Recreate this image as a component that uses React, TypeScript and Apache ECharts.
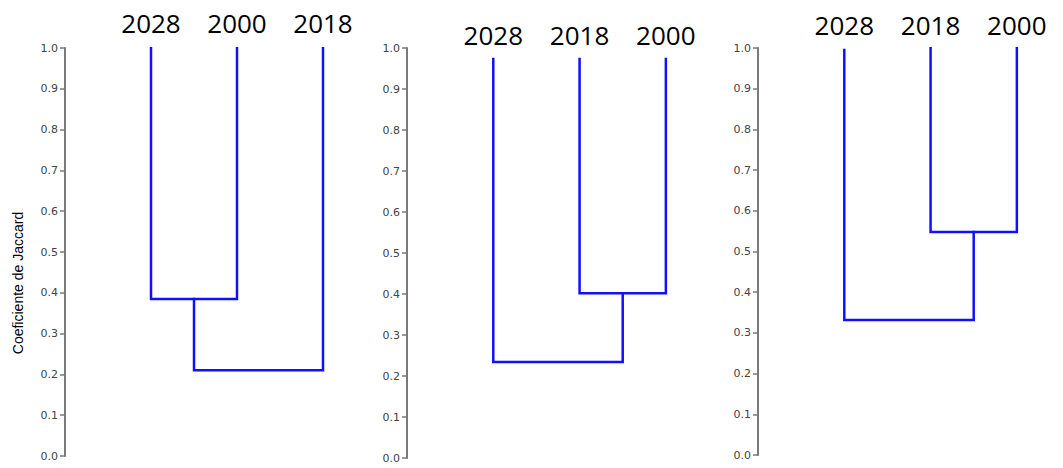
import React, { useEffect, useRef } from "react";
import * as echarts from "echarts";

// Panel 1
const leaves1 = ["2028", "2000", "2018"];
const leafHeights1 = [1.0, 1.0, 1.0];
const merges1: [number, number, number][] = [
  [0, 1, 0.385],
  [3, 2, 0.21],
];
// Panel 2
const leaves2 = ["2028", "2018", "2000"];
const leafHeights2 = [0.973, 0.973, 0.973];
const merges2: [number, number, number][] = [
  [1, 2, 0.402],
  [0, 3, 0.234],
];
// Panel 3
const leaves3 = ["2028", "2018", "2000"];
const leafHeights3 = [0.995, 1.0, 1.0];
const merges3: [number, number, number][] = [
  [1, 2, 0.548],
  [0, 3, 0.332],
];

const yTicks = ["0.0", "0.1", "0.2", "0.3", "0.4", "0.5", "0.6", "0.7", "0.8", "0.9", "1.0"];
const yTitle = "Coeficiente de Jaccard";

const panels = [
  { leaves: leaves1, heights: leafHeights1, merges: merges1 },
  { leaves: leaves2, heights: leafHeights2, merges: merges2 },
  { leaves: leaves3, heights: leafHeights3, merges: merges3 },
];

const layout = [
  { left: 65, top: 48, height: 408, width: 301, labelMargin: 12 },
  { left: 407, top: 48, height: 410, width: 302, labelMargin: 0 },
  { left: 758, top: 48, height: 407, width: 302, labelMargin: 10 },
];

const BLUE = "#1010ff";

function buildSeries(p: typeof panels[number], idx: number) {
  const xs: number[] = p.leaves.map((_, i) => i);
  const hs: number[] = [...p.heights];
  const out: any[] = [];
  p.merges.forEach(([a, b, h]) => {
    const xa = xs[a];
    const xb = xs[b];
    out.push({
      type: "line",
      xAxisIndex: idx,
      yAxisIndex: idx,
      showSymbol: false,
      symbol: "none",
      silent: true,
      lineStyle: { color: BLUE, width: 2.5, cap: "square", join: "miter" },
      data: [
        [xa, hs[a]],
        [xa, h],
        [xb, h],
        [xb, hs[b]],
      ],
    });
    xs.push((xa + xb) / 2);
    hs.push(h);
  });
  return out;
}

export default function App() {
  const ref = useRef<HTMLDivElement>(null);
  useEffect(() => {
    if (!ref.current) return;
    const chart = echarts.init(ref.current, undefined, { renderer: "svg" });
    const grid = layout.map((l) => ({
      left: l.left,
      top: l.top,
      width: l.width,
      height: l.height,
      containLabel: false,
    }));
    const xAxis = panels.map((p, i) => ({
      type: "value",
      gridIndex: i,
      position: "top",
      min: -1,
      max: 2.5,
      interval: 1,
      axisLine: { show: false, onZero: false },
      axisTick: { show: false },
      splitLine: { show: false },
      axisLabel: {
        show: true,
        margin: layout[i].labelMargin,
        fontSize: 26,
        fontFamily: "Open Sans",
        color: "#000",
        showMinLabel: false,
        showMaxLabel: false,
        formatter: (v: number) => {
          const k = Math.round(v);
          if (Math.abs(v - k) > 1e-6 || k < 0 || k >= p.leaves.length) return "";
          return p.leaves[k];
        },
      },
    }));
    const yAxis = panels.map((_, i) => ({
      type: "value",
      gridIndex: i,
      position: "left",
      min: 0,
      max: 1,
      interval: 0.1,
      axisLine: { show: true, onZero: false, lineStyle: { color: "#7a7a7a", width: 2 } },
      axisTick: { show: true, length: 5, lineStyle: { color: "#7a7a7a", width: 1.5 } },
      splitLine: { show: false },
      axisLabel: {
        margin: 7,
        fontSize: 11,
        fontFamily: "DejaVu Sans",
        color: "#444",
        formatter: (v: number) => yTicks[Math.round(v * 10)] ?? "",
      },
    }));
    const series = panels.flatMap((p, i) => buildSeries(p, i));
    chart.setOption({
      animation: false,
      backgroundColor: "#fff",
      grid,
      xAxis,
      yAxis,
      series,
      graphic: [
        {
          type: "text",
          x: 18,
          y: 283,
          rotation: Math.PI / 2,
          style: {
            text: yTitle,
            fontSize: 14,
            fontFamily: "Liberation Sans",
            fill: "#000",
            align: "center",
            verticalAlign: "middle",
          },
        },
      ],
    });
    return () => chart.dispose();
  }, []);
  return (
    <div
      ref={ref}
      style={{ position: "fixed", left: 0, top: 0, width: 1063, height: 468, background: "#fff" }}
    />
  );
}
